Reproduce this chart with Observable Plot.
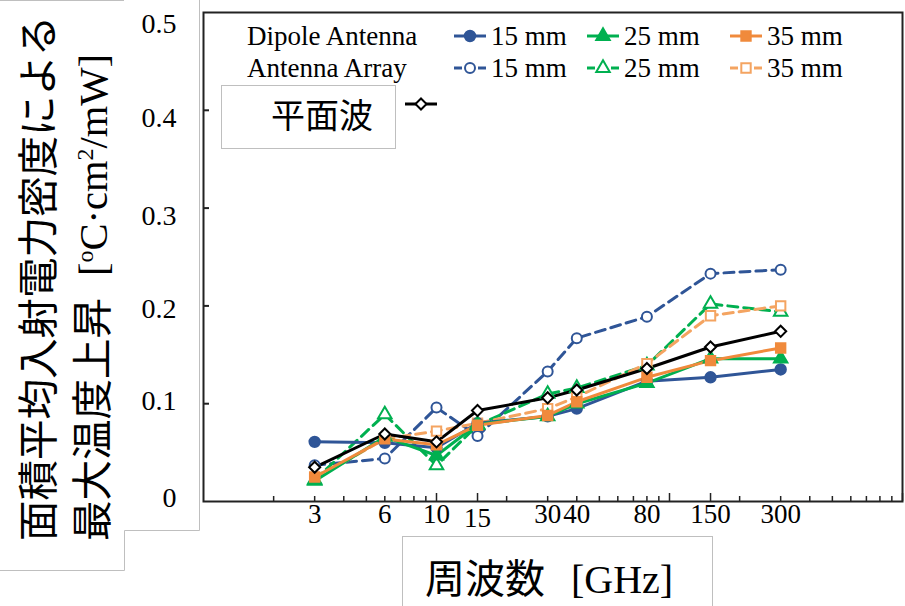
<!DOCTYPE html>
<html><head><meta charset="utf-8">
<script src="https://cdn.jsdelivr.net/npm/d3@7"></script>
<script src="https://cdn.jsdelivr.net/npm/@observablehq/plot@0.6"></script>
<style>
body{margin:0;background:#fff;}
#chart{position:relative;width:905px;height:606px;overflow:hidden;background:#fff;}
</style></head><body><div id="chart"></div>
<script>
// ---- data ----
const freqs = [3, 6, 10, 15, 30, 40, 80, 150, 300];
const tickLabels = [3, 6, 10, 30, 40, 80, 150, 300];
const tickLabelsLow = [15];
const minorTicks = [2,3,4,5,6,7,8,9,20,30,40,50,60,70,80,90,200,300,400,500,600,700,800,900];
const majorTicks = [10, 15, 100, 150, 1000];
const yTicks = [0, 0.1, 0.2, 0.3, 0.4, 0.5];
const yLabelGroups = [[[0.5], 12], [[0.3, 0.4], 8], [[0.2], 3], [[0, 0.1], -3]];

const dipole15 = [0.061, 0.060, 0.055, 0.080, 0.087, 0.095, 0.123, 0.127, 0.135];
const dipole25 = [0.021, 0.066, 0.047, 0.079, 0.087, 0.100, 0.121, 0.146, 0.146];
const dipole35 = [0.025, 0.064, 0.058, 0.078, 0.088, 0.102, 0.127, 0.144, 0.157];
const array15  = [0.037, 0.044, 0.096, 0.067, 0.133, 0.167, 0.189, 0.233, 0.237];
const array25  = [0.022, 0.089, 0.037, 0.078, 0.110, 0.116, 0.139, 0.202, 0.194];
const array35  = [0.023, 0.064, 0.072, 0.080, 0.095, 0.107, 0.141, 0.190, 0.200];
const planeWave = [0.035, 0.069, 0.061, 0.093, 0.106, 0.114, 0.136, 0.158, 0.174];

const legendRowLabels = ["Dipole Antenna", "Antenna Array"];
const legendSizes = ["15 mm", "25 mm", "35 mm"];
const planeLabel = "平面波";
const yTitle1 = "面積平均入射電力密度による";
const yTitle2 = "最大温度上昇";
const xTitle = "周波数";

// ---- styles ----
const SERIF = "'Liberation Serif', Tinos, 'Times New Roman', 'Nimbus Roman', 'DejaVu Serif', serif";
const CJK = "'Noto Sans CJK JP', 'Noto Sans', sans-serif";
const BLUE = "#2F5597", GREEN = "#00B050", ORANGE = "#F08A3C", ORANGE_L = "#F4A461";
const DASH = "10,6";
const seriesDefs = [
  {values: array15,  stroke: BLUE,     dash: DASH, symbol: "circle",   fill: "white", r: 5},
  {values: array25,  stroke: GREEN,    dash: DASH, symbol: "triangle", fill: "white", r: 5},
  {values: array35,  stroke: ORANGE_L, dash: DASH, symbol: "square",   fill: "white", r: 5.3},
  {values: dipole15, stroke: BLUE,     dash: null, symbol: "circle",   fill: BLUE,    r: 5.2},
  {values: dipole25, stroke: GREEN,    dash: null, symbol: "triangle", fill: GREEN,   r: 5},
  {values: dipole35, stroke: ORANGE,   dash: null, symbol: "square",   fill: ORANGE,  r: 5.3},
  {values: planeWave, stroke: "#000",  dash: null, symbol: "diamond2", fill: "white", r: 5}
];

const marks = [];
seriesDefs.forEach(s => {
  const rows = freqs.map((f, i) => ({f, v: s.values[i]}));
  marks.push(Plot.line(rows, {x: "f", y: "v", stroke: s.stroke, strokeWidth: 3,
    strokeDasharray: s.dash || undefined, strokeLinejoin: "round"}));
});
seriesDefs.forEach(s => {
  const rows = freqs.map((f, i) => ({f, v: s.values[i]}));
  marks.push(Plot.dot(rows, {x: "f", y: "v", symbol: s.symbol, r: s.r, fill: s.fill,
    stroke: s.stroke, strokeWidth: 2}));
});

const fmtY = d => d === 0 ? "0" : d.toFixed(1);
const yLab = (arr, dy) => Plot.text(arr, {y: d => d, frameAnchor: "left", textAnchor: "end", dx: -27, dy, text: fmtY, fontFamily: SERIF, fontSize: 28});
const xLab = (arr, dy) => Plot.text(arr, {x: d => d, frameAnchor: "bottom", dy, text: d => String(d), fontFamily: SERIF, fontSize: 27});

const plot = Plot.plot({
  width: 905, height: 606,
  marginLeft: 203, marginRight: 3, marginTop: 12, marginBottom: 105,
  style: {fontFamily: SERIF, fontSize: "27px",
          background: "transparent", color: "#000", overflow: "visible"},
  x: {type: "log", domain: [1, 1000], axis: null},
  y: {domain: [0, 0.5], axis: null},
  marks: [
    ...yLabelGroups.map(([arr, dy]) => yLab(arr, dy)),
    xLab(tickLabels, 21), xLab(tickLabelsLow, 25),
    Plot.axisY(yTicks.slice(1, 5), {tickSize: 6, dx: 6, label: null, tickFormat: () => "", strokeWidth: 2, stroke: "#222"}),
    Plot.axisX(minorTicks, {tickSize: 5, dy: -5, label: null, tickFormat: () => "", strokeWidth: 1.5, stroke: "#222"}),
    Plot.axisX(majorTicks, {tickSize: 8, dy: -8, label: null, tickFormat: () => "", strokeWidth: 1.5, stroke: "#222"}),
    ...marks,
    Plot.frame({stroke: "#222", strokeWidth: 2})
  ]
});
document.getElementById("chart").appendChild(plot);

// ---- annotations / legend ----
const svg = d3.select(plot);
const ann = svg.append("g").attr("text-anchor", "start");
const GRAYBOX = "#BFBFBF";

// y-title box
ann.append("path")
  .attr("d", "M0,0.5 H124 M199.5,0 V530.5 H124.5 V570.5 H0")
  .attr("fill", "none").attr("stroke", GRAYBOX).attr("stroke-width", 1);

ann.append("text")
  .attr("transform", "translate(53,541) rotate(-90)")
  .attr("font-family", CJK).attr("font-size", 40.5).attr("fill", "#000")
  .text(yTitle1);
const t2 = ann.append("text")
  .attr("transform", "translate(107,541) rotate(-90)")
  .attr("font-family", CJK).attr("font-size", 40.5).attr("fill", "#000");
t2.append("tspan").text(yTitle2);
const unit = t2.append("tspan").attr("font-family", SERIF).attr("dx", 22);
unit.append("tspan").text("[");
unit.append("tspan").attr("font-size", 24).attr("dy", -14).text("o");
unit.append("tspan").attr("dy", 14).text("C·cm");
unit.append("tspan").attr("font-size", 24).attr("dy", -14).text("2");
unit.append("tspan").attr("dy", 14).text("/mW]");

// x-title box
ann.append("rect").attr("x", 402.5).attr("y", 536.5).attr("width", 310).attr("height", 80)
  .attr("fill", "white").attr("stroke", GRAYBOX);
const xt = ann.append("text").attr("x", 425).attr("y", 593)
  .attr("font-family", CJK).attr("font-size", 40).attr("fill", "#000");
xt.append("tspan").text(xTitle);
xt.append("tspan").attr("font-family", SERIF).attr("dx", 26).text("[GHz]");

// plane wave box
ann.append("rect").attr("x", 221.5).attr("y", 85.5).attr("width", 174).attr("height", 63)
  .attr("fill", "white").attr("stroke", GRAYBOX);
ann.append("text").attr("x", 271).attr("y", 128)
  .attr("font-family", CJK).attr("font-size", 34).attr("fill", "#000").text(planeLabel);

function symPath(name, r) {
  const map = {circle: d3.symbolCircle, triangle: d3.symbolTriangle, square: d3.symbolSquare, diamond2: d3.symbolDiamond2};
  return d3.symbol(map[name], r * r * Math.PI)();
}
function legendItem(cx, cy, s) {
  if (s.dash) {
    ann.append("line").attr("x1", cx - 16).attr("x2", cx - 8).attr("y1", cy).attr("y2", cy)
      .attr("stroke", s.stroke).attr("stroke-width", 3);
    ann.append("line").attr("x1", cx + 8).attr("x2", cx + 16).attr("y1", cy).attr("y2", cy)
      .attr("stroke", s.stroke).attr("stroke-width", 3);
  } else {
    ann.append("line").attr("x1", cx - 16).attr("x2", cx + 16).attr("y1", cy).attr("y2", cy)
      .attr("stroke", s.stroke).attr("stroke-width", 3);
  }
  ann.append("path").attr("d", symPath(s.symbol, s.r)).attr("transform", `translate(${cx},${cy})`)
    .attr("fill", s.fill).attr("stroke", s.stroke).attr("stroke-width", 2);
}

const rowY = [36, 68];
const colX = [470, 603, 746];
legendRowLabels.forEach((lab, ri) => {
  ann.append("text").attr("x", 247).attr("y", rowY[ri] + 9)
    .attr("font-family", SERIF).attr("font-size", 27).attr("fill", "#000").text(lab);
  legendSizes.forEach((sz, ci) => {
    const s = seriesDefs[(ri === 0 ? 3 : 0) + ci];
    legendItem(colX[ci], rowY[ri], s);
    ann.append("text").attr("x", colX[ci] + 21).attr("y", rowY[ri] + 9)
      .attr("font-family", SERIF).attr("font-size", 27).attr("fill", "#000").text(sz);
  });
});
legendItem(421, 104, seriesDefs[6]);
</script></body></html>
